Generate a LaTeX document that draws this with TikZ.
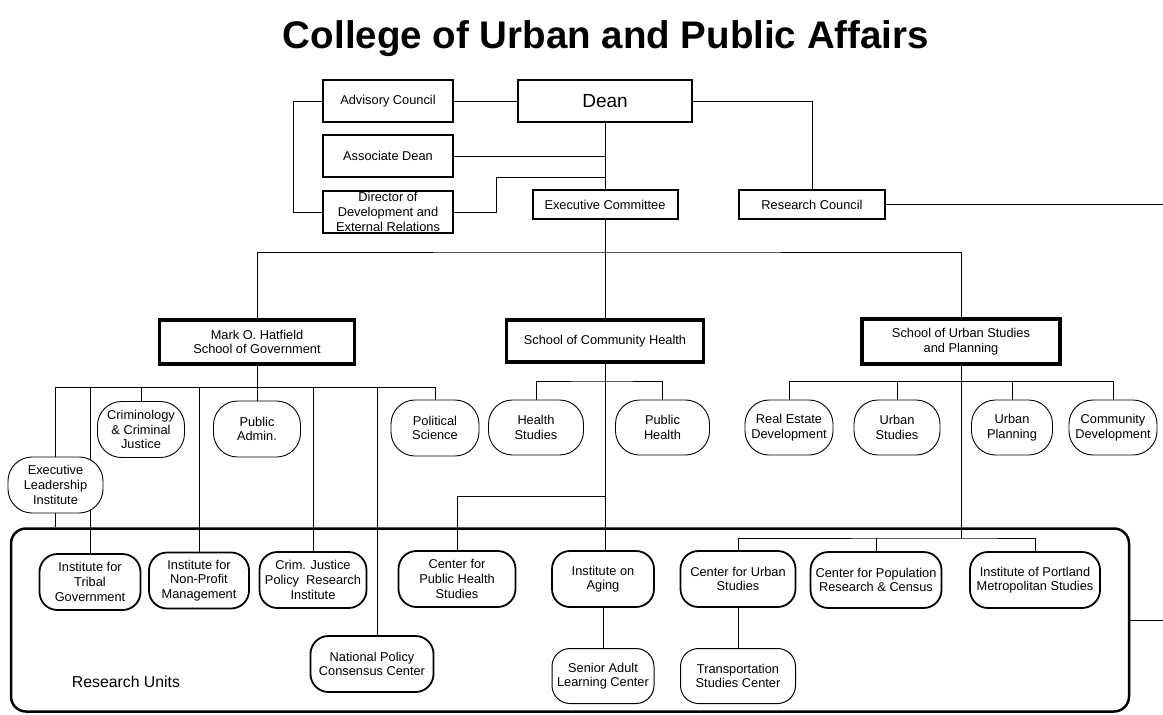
\documentclass[tikz,border=0pt]{standalone}
\usepackage{fontspec}
\setmainfont{Liberation Sans}
\usetikzlibrary{backgrounds}
\begin{document}
\begin{tikzpicture}[x=1pt,y=-1pt,
  lbl/.style={font=\fontsize{12.8}{14.6}\selectfont, align=center, inner sep=0pt},
  office/.style={lbl, draw, fill=white, line width=1.3pt, minimum height=42pt},
  headbox/.style={office, line width=2pt},
  school/.style={office, line width=3.4pt},
  dept/.style={lbl, draw, fill=white, line width=0.9pt, rounded corners=24pt, minimum height=55pt},
  unit/.style={lbl, draw, fill=white, line width=1.8pt, rounded corners=18pt, minimum height=56pt},
  subunit/.style={unit, line width=1pt},
  link/.style={line width=0.8pt}
]
\useasboundingbox (0,0) rectangle (1163,715);

% title
\node[font=\bfseries\fontsize{38.5}{40}\selectfont, anchor=base, inner sep=0pt] (title) at (606,48) {College of Urban and Public Affairs};

% dean's office
\node[office, minimum width=130pt] (adv) at (388,101) {Advisory Council};
\node[headbox, minimum width=174pt, font=\fontsize{19}{21}\selectfont] (dean) at (605,101) {Dean};
\node[office, minimum width=130pt] (assoc) at (388,156) {Associate Dean};
\node[office, minimum width=130pt] (dir) at (388,212) {Director of\\Development and\\External Relations};
\node[headbox, minimum width=145pt, minimum height=29pt] (exec) at (605,204.5) {Executive Committee};
\node[headbox, minimum width=146pt, minimum height=29pt] (rc) at (812,204.5) {Research Council};

% schools
\node[school, minimum width=195pt, minimum height=44pt] (hat) at (257,342) {Mark O. Hatfield\\School of Government};
\node[school, minimum width=197pt] (sch) at (605,341) {School of Community Health};
\node[school, minimum width=198pt, minimum height=45pt] (sus) at (961,341.5) {School of Urban Studies\\and Planning};

% departments
\node[dept, minimum width=95pt, minimum height=56pt] (eli) at (55.5,485) {Executive\\Leadership\\Institute};
\node[dept, minimum width=87pt, minimum height=56pt] (crim) at (141,429.5) {Criminology\\\& Criminal\\Justice};
\node[dept, minimum width=87pt, minimum height=56pt] (padm) at (257,429) {Public\\Admin.};
\node[dept, minimum width=88pt, minimum height=56pt] (polsci) at (435,428) {Political\\Science};
\node[dept, minimum width=95pt] (hs) at (536,427.5) {Health\\Studies};
\node[dept, minimum width=94pt] (ph) at (662.5,427.5) {Public\\Health};
\node[dept, minimum width=88pt] (red) at (789,427.5) {Real Estate\\Development};
\node[dept, minimum width=86pt] (us) at (897,427.5) {Urban\\Studies};
\node[dept, minimum width=81pt] (up) at (1012,427.5) {Urban\\Planning};
\node[dept, minimum width=88pt] (cd) at (1113,427.5) {Community\\Development};

% research units
\node[draw, line width=2.5pt, rounded corners=15pt, minimum width=1118pt, minimum height=183pt, inner sep=0pt] (ru) at (570,620) {};
\node[font=\fontsize{15.8}{18}\selectfont, inner sep=0pt] (rulbl) at (126,682) {Research Units};
\node[unit, minimum width=101pt] (tribal) at (90,582) {Institute for\\Tribal\\Government};
\node[unit, minimum width=100pt] (npm) at (199,580.5) {Institute for\\Non-Profit\\Management};
\node[unit, minimum width=107pt] (cjp) at (313,580) {Crim. Justice\\Policy\ \ Research\\Institute};
\node[unit, minimum width=123pt] (npc) at (372,664) {National Policy\\Consensus Center};
\node[unit, minimum width=117pt] (cphs) at (457,579) {Center for\\Public Health\\Studies};
\node[unit, minimum width=102pt] (ioa) at (603,579) {Institute on\\Aging};
\node[subunit, minimum width=102pt, minimum height=55pt] (salc) at (603,676) {Senior Adult\\Learning Center};
\node[unit, minimum width=115pt] (cus) at (738,579) {Center for Urban\\Studies};
\node[subunit, minimum width=115pt, minimum height=55pt] (tsc) at (738,676) {Transportation\\Studies Center};
\node[unit, minimum width=131pt] (cprc) at (876,580) {Center for Population\\Research \& Census};
\node[unit, minimum width=130pt] (ipms) at (1035,580) {Institute of Portland\\Metropolitan Studies};

% junction points
\coordinate (devj) at (605,177);
\coordinate (rcout) at (1163,204.5);
\coordinate (topbus) at (605,252);
\coordinate (hatbus) at (257,387);
\coordinate (npcx) at (377.5,387);
\coordinate (chbus) at (605,381);
\coordinate (cphsj) at (605,496);
\coordinate (usbus) at (961,381.5);
\coordinate (rubus) at (961,538);

\begin{pgfonlayer}{background}
\fill[white] (0,0) rectangle (1163,715);
% dean's office
\draw[link] (adv) -- (dean);
\draw[link] (adv.west) -- ++(-29,0) |- (dir.west);
\draw[link] (dean) -- (exec);
\draw[link] (assoc.east) -- (assoc.east -| devj);
\draw[link] (dir.east) -- ++(43,0) |- (devj);
\draw[link] (dean.east) -| (rc.north);
\draw[link] (rc.east) -- (rcout);
% schools
\draw[link] (exec) -- (sch);
\draw[link] (hat.north) |- (topbus) -| (sus.north);
% government
\draw[link] (hat.south) -- (hatbus);
\draw[link] (eli.north |- hatbus) -- (polsci.north |- hatbus);
\foreach \n in {eli,tribal,crim,npm,padm,cjp,polsci}
  \draw[link] (\n.north) -- (\n.north |- hatbus);
\draw[link] (npcx) -- (npcx |- npc.north);
\draw[link] (eli.south) -- (eli.south |- ru.north);
% community health
\draw[link] (sch.south) -- (sch.south |- ioa.north);
\draw[link] (hs.north) |- (chbus) -| (ph.north);
\draw[link] (cphsj) -| (cphs.north);
\draw[link] (ioa) -- (salc);
% urban studies
\draw[link] (sus.south) -- (rubus);
\draw[link] (red.north) |- (usbus) -| (cd.north);
\draw[link] (us.north) -- (us.north |- usbus);
\draw[link] (up.north) -- (up.north |- usbus);
\draw[link] (cus.north) |- (rubus) -| (ipms.north);
\draw[link] (cprc.north) -- (cprc.north |- rubus);
\draw[link] (cus) -- (tsc);
% research council link
\draw[link] (ru.east) -- (ru.east -| rcout);
\end{pgfonlayer}
\end{tikzpicture}
\end{document}
